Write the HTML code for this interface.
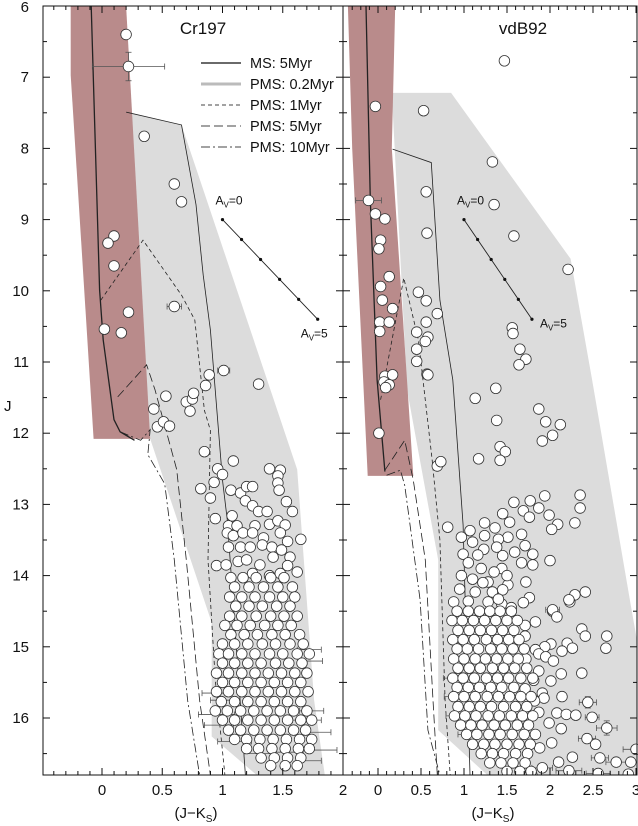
<!DOCTYPE html>
<html><head><meta charset="utf-8"><style>
html,body{margin:0;padding:0;background:#fff;}
svg{display:block;font-family:"Liberation Sans",sans-serif;}
</style></head><body>
<svg id="chart" width="638" height="826" viewBox="0 0 638 826" xmlns="http://www.w3.org/2000/svg">
<g id="layer-bg"></g>
<g id="layer-lines"></g>
<g id="layer-err"></g>
<g id="layer-pts"></g>
<g id="layer-axes"></g>
</svg>
<script>
// ---------- data ----------
const yTicks = [6,7,8,9,10,11,12,13,14,15,16];
const leftXTicks = [0,0.5,1,1.5,2];
const rightXTicks = [0,0.5,1,1.5,2,2.5,3];
const legendLabels = ["MS: 5Myr","PMS: 0.2Myr","PMS: 1Myr","PMS: 5Myr","PMS: 10Myr"];
const avStart = [1.0, 9.0];
const avEnd = [1.79, 10.4];

// region shapes (data coords: colour, J)
const leftRedBand = [[-0.26,6],[-0.26,6.97],[-0.07,12.08],[0.4,12.08],[0.2,6]];
const leftGrey = [[0.2,7.49],[0.66,7.67],[1.62,12.51],[1.76,15.75],[1.85,16.81],[1.29,16.81],[0.91,16.26],[0.91,14.66],[0.4,12.08],[0.2,7.49]];
const rightRedBand = [[-0.35,6],[-0.3,8.0],[-0.12,12.6],[0.41,12.6],[0.16,8.0],[0.2,6]];
const rightGrey = [[0.16,7.22],[0.85,7.22],[2.24,9.55],[2.49,11.25],[2.95,14.49],[3.01,14.9],[3.01,16.81],[1.28,16.81],[0.7,16.17],[0.7,13.78],[0.34,11.4],[0.16,7.22]];

// isochrones
const leftMS = [[-0.09,6],[-0.02,9.99],[0.01,10.69],[0.1,11.81],[0.15,11.98],[0.27,12.1]];
const leftP02 = [[0.2,7.49],[0.66,7.67],[0.78,8.79],[0.84,9.78],[0.9,10.55],[1.0,12.66],[1.04,13.22],[1.19,16.81]];
const leftP1 = [[-0.01,10.13],[0.34,9.29],[0.66,10.06],[0.77,10.41],[0.85,11.68],[0.9,11.96],[0.88,13.78],[0.94,15.47],[1.02,16.81]];
const leftP5 = [[0.13,11.49],[0.37,11.04],[0.44,11.39],[0.62,12.51],[0.7,13.78],[0.81,15.75],[0.9,16.81]];
const leftP10 = [[0.15,11.98],[0.32,12.1],[0.4,11.95],[0.38,12.3],[0.52,12.71],[0.6,13.78],[0.71,15.75],[0.81,16.81]];
const rightMS = [[-0.14,6],[-0.09,8.72],[-0.01,11.25],[0.08,12.54]];
const rightP02 = [[0.17,8.01],[0.62,8.2],[0.72,10.13],[0.87,11.25],[0.99,13.29],[1.07,16.81]];
const rightP1 = [[0.03,11.53],[0.3,9.82],[0.47,10.69],[0.63,12.38],[0.72,13.5],[0.78,15.75],[0.84,16.81]];
const rightP5 = [[0.08,12.52],[0.31,12.1],[0.41,12.66],[0.55,13.78],[0.64,15.75],[0.69,16.81]];
const rightP10 = [[0.1,12.59],[0.26,12.52],[0.31,12.73],[0.49,14.34],[0.58,16.17],[0.72,16.81]];

// stars: sparse points [colour, J]
const leftSparse = [[0.2,6.4],[0.22,6.85],[0.35,7.83],[0.6,8.5],[0.66,8.75],[0.1,9.23],[0.05,9.33],[0.1,9.65],[0.22,10.3],[0.02,10.54],[0.16,10.59],[0.6,10.22],
[0.53,11.48],[0.43,11.66],[0.46,11.91],[0.51,11.84],[0.56,11.9],[0.7,11.56],[0.75,11.52],[0.76,11.44],[0.73,11.69],[0.86,11.33],[0.89,11.18],[1.01,11.12],[1.3,11.31],
[0.85,12.26],[1.09,12.39],[0.96,12.5],[1.0,12.58],[0.93,12.69],[0.82,12.78],[0.9,12.91],[0.94,13.2],[1.39,12.5],[1.48,12.52],[1.46,12.6],[1.46,12.7],[1.47,12.8],[1.53,12.96],[1.58,13.1],[1.65,13.49],
[1.07,12.8],[1.15,12.84],[1.2,12.75],[1.25,12.75],[1.19,12.95],[1.25,13.02],[1.3,13.1],[1.37,13.1],[1.08,13.16],[1.05,13.3],[1.12,13.3],[1.27,13.3],[1.39,13.28],[1.46,13.23],[1.52,13.29],
[1.04,13.4],[1.09,13.44],[1.17,13.4],[1.25,13.4],[1.34,13.47],[1.48,13.4],[1.54,13.52],[1.05,13.6],[1.15,13.6],[1.23,13.6],[1.33,13.57],[1.41,13.6],[1.49,13.64],[1.56,13.74],
[0.95,13.86],[1.03,13.85],[1.13,13.8],[1.2,13.78],[1.31,13.85],[1.42,13.74],[1.54,13.86],[1.62,13.95],[1.25,13.97],[1.39,14.0],[1.48,13.97]];
const leftRowsJ = [14.03,14.16,14.3,14.43,14.57,14.7,14.83,14.96,15.1,15.23,15.37,15.5,15.63,15.77,15.9,16.03,16.17,16.3,16.43,16.56,16.67];
const leftRowsC = [[1.07,1.17,1.28,1.4,1.51],[1.1,1.22,1.34,1.46,1.58],[1.06,1.16,1.27,1.39,1.5,1.6],[1.11,1.22,1.33,1.45,1.56],[1.06,1.16,1.28,1.4,1.51,1.62],
[1.02,1.12,1.23,1.35,1.46,1.57],[1.07,1.18,1.29,1.41,1.52,1.64],[1.0,1.1,1.21,1.33,1.44,1.56,1.67],[0.97,1.05,1.16,1.27,1.39,1.5,1.62,1.72],[1.0,1.1,1.21,1.32,1.44,1.55,1.66],
[0.95,1.05,1.16,1.27,1.38,1.49,1.6,1.7],[1.0,1.1,1.21,1.32,1.43,1.54,1.65],[0.95,1.05,1.16,1.27,1.38,1.49,1.6,1.71],[0.99,1.1,1.21,1.32,1.43,1.54,1.65],
[0.94,1.04,1.15,1.26,1.37,1.48,1.59,1.7],[1.0,1.1,1.21,1.32,1.43,1.54,1.65,1.74],[1.05,1.15,1.26,1.37,1.48,1.59,1.69],[1.1,1.2,1.31,1.42,1.53,1.64,1.74],
[1.2,1.3,1.41,1.52,1.63,1.72],[1.32,1.43,1.54,1.65],[1.4,1.52,1.62]];
const rightSparse = [[1.47,6.77],[-0.03,7.41],[0.53,7.47],[1.33,8.19],[0.56,8.61],[1.35,8.79],[-0.11,8.73],[-0.03,8.92],[0.08,8.99],[0.57,9.19],[1.58,9.23],[0.03,9.29],[0.01,9.41],[2.21,9.7],
[0.13,9.8],[0.03,9.94],[0.05,10.13],[0.17,10.25],[0.02,10.44],[0.13,10.44],[0.02,10.57],[0.47,10.02],[0.56,10.14],[0.69,10.32],[0.56,10.44],[0.45,10.58],[0.58,10.65],[0.55,10.71],[0.45,10.82],[0.45,10.99],
[1.56,10.52],[1.57,10.6],[1.65,10.82],[1.72,10.96],[1.64,11.04],[0.57,11.17],[0.58,11.18],[0.08,11.2],[0.17,11.18],[0.07,11.28],[0.13,11.32],[0.09,11.36],[1.37,11.37],[1.13,11.51],[1.87,11.66],[1.38,11.82],[1.95,11.84],[2.12,11.88],
[1.91,12.11],[2.03,12.03],[1.42,12.19],[1.48,12.26],[1.42,12.38],[1.17,12.36],[0.01,12.0],[0.69,12.46],[0.73,12.4],[0.81,13.32],[1.58,12.97],[1.77,12.95],[1.94,12.88],[2.35,12.87],[2.35,13.05],
[1.69,13.09],[1.87,13.05],[1.76,13.18],[1.99,13.15],[2.09,13.28],[2.02,13.35],[2.29,13.26],[1.45,13.13],[1.53,13.25],[1.67,13.42],[1.51,13.46],[1.71,13.58],[1.8,13.7],[1.8,13.85],[1.67,13.82],[2.0,13.79],
[2.41,14.23],[2.29,14.27],[2.23,14.37],[2.03,14.5],[1.72,14.09],[1.76,14.31],[1.69,14.38],
[1.24,13.26],[1.36,13.33],[1.07,13.37],[1.24,13.44],[1.4,13.49],[0.97,13.46],[1.1,13.53],[1.23,13.63],[1.38,13.6],[1.45,13.72],[1.59,13.67],[0.99,13.7],[1.16,13.71],[1.05,13.82],[1.2,13.9],[1.44,13.9],
[0.97,14.0],[1.1,14.05],[1.28,14.09],[1.51,14.13],[0.95,14.19],[1.13,14.23],[1.33,14.23],[1.45,14.2],[0.88,14.37],[1.05,14.36],[1.28,14.37],[1.44,14.4],[1.35,13.95],[1.5,14.0],[1.22,14.1],[1.4,14.33],[1.55,14.45],
[2.22,14.34],[2.03,14.48],[2.08,14.58],[1.83,14.65],[1.71,14.7],[1.71,14.85],[2.37,14.75],[2.41,14.85],[2.66,14.85],[2.65,15.02],[2.2,14.95],[2.26,15.02],[2.14,15.06],[2.01,14.96],[1.94,15.0],[1.83,15.04],
[1.87,15.1],[1.95,15.14],[2.04,15.2],[2.37,15.37],[2.13,15.38],[2.01,15.48],[1.87,15.34],[1.72,15.17],[1.81,15.47],[1.71,15.59],[1.91,15.65],[1.93,15.72],[2.14,15.7],[1.82,15.76],[2.44,15.78],
[2.08,15.93],[2.19,15.95],[2.3,15.96],[2.49,15.99],[1.87,15.92],[1.99,16.07],[2.13,16.15],[2.66,16.14],[2.43,16.29],[2.53,16.37],[2.26,16.55],[2.58,16.56],[2.77,16.62],[2.94,16.62],[3.0,16.44],
[2.91,16.79],[2.56,16.78],[2.22,16.74],[2.1,16.62],[2.02,16.35],[1.88,16.42],[1.79,16.8],[1.91,16.7]];
const rightRowsJ = [14.5,14.63,14.77,14.9,15.03,15.17,15.3,15.44,15.57,15.7,15.84,15.97,16.1,16.23,16.37,16.5,16.63,16.75];
const rightRowsC = [[0.92,1.05,1.18,1.3,1.42,1.55],[0.86,0.98,1.11,1.24,1.37,1.5,1.62],[0.93,1.06,1.19,1.32,1.45,1.58],[0.87,0.99,1.12,1.26,1.39,1.52,1.64],
[0.92,1.04,1.17,1.31,1.44,1.57,1.7],[0.88,1.0,1.13,1.25,1.38,1.51,1.63],[0.93,1.06,1.19,1.33,1.46,1.59,1.73],[0.87,0.99,1.12,1.26,1.39,1.52,1.66,1.8],
[0.92,1.05,1.18,1.31,1.44,1.58],[0.88,1.0,1.13,1.27,1.4,1.53,1.66,1.78],[0.93,1.06,1.19,1.32,1.46,1.6,1.73],[0.89,1.01,1.14,1.28,1.41,1.55,1.68,1.8],
[0.96,1.08,1.21,1.35,1.48,1.62,1.75],[1.03,1.15,1.29,1.42,1.56,1.7,1.83],[1.1,1.23,1.36,1.5,1.64,1.77],[1.2,1.33,1.46,1.6,1.74],[1.3,1.43,1.57,1.71],[1.5,1.65,1.78]];
// error bars [colour, J, xerr, yerr]
const leftErr = [[0.22,6.85,0.3,0.2],[0.6,10.22,0.06,0.06],[1.01,11.12,0.05,0.04],[0.95,15.95,0.15,0],[0.97,16.1,0.12,0],[1.0,15.75,0.1,0],[0.93,15.65,0.1,0],[1.1,16.33,0.14,0],
[1.72,15.04,0.1,0],[1.75,15.2,0.08,0],[1.8,16.2,0.1,0],[1.83,16.45,0.12,0],[1.72,16.6,0.1,0],[1.55,16.48,0.12,0],[1.3,16.5,0.12,0],[1.74,15.9,0.1,0],[1.7,16.03,0.12,0]];
const rightErr = [[-0.11,8.73,0.15,0.05],[2.03,14.48,0.08,0],[2.44,15.78,0.1,0.08],[2.49,15.99,0.08,0],[2.66,16.14,0.12,0.1],[2.43,16.29,0.1,0],[3.0,16.44,0.15,0],[2.56,16.78,0.14,0],
[2.77,16.62,0.12,0],[2.22,16.74,0.15,0],[0.86,15.44,0.1,0],[0.87,15.7,0.1,0],[0.89,15.97,0.1,0],[1.03,16.23,0.1,0],[1.91,16.7,0.12,0],[2.58,16.56,0.1,0]];

// ---------- geometry ----------
const NS="http://www.w3.org/2000/svg";
const TOP=6, BOT=775;
const yOf = j => TOP + (j-6)*71.2;
const L = {x0:43, x1:343, xOf: c => 102 + c*120.5, cmin:-0.4, cmax:2.0, av5dx:-17, av5dy:18};
const R = {x0:343, x1:637, xOf: c => 378 + c*86, cmin:-0.3, cmax:3.0, av5dx:8, av5dy:8};
function mk(tag, attrs, parent){const e=document.createElementNS(NS,tag);for(const k in attrs)e.setAttribute(k,attrs[k]);parent.appendChild(e);return e;}
const bg=document.getElementById('layer-bg'), ln=document.getElementById('layer-lines'), er=document.getElementById('layer-err'), pt=document.getElementById('layer-pts'), ax=document.getElementById('layer-axes');

function poly(P, pts, fill, name){
  const e=mk('polygon',{points:pts.map(p=>P.xOf(p[0]).toFixed(1)+','+yOf(p[1]).toFixed(1)).join(' '),fill:fill},bg);
  
  
}
function line(P, pts, dash, name, w){
  const e=mk('polyline',{points:pts.map(p=>P.xOf(p[0]).toFixed(1)+','+Math.min(BOT,yOf(p[1])).toFixed(1)).join(' '),fill:'none',stroke:'#222','stroke-width':w||0.8},ln);
  if(dash) e.setAttribute('stroke-dasharray',dash);
  
  
}
function star(P, c, j, name){
  const e=mk('circle',{cx:P.xOf(c).toFixed(1),cy:yOf(j).toFixed(1),r:5.3,fill:'#fff',stroke:'#333','stroke-width':0.8},pt);
  
  
}
function errbar(P, d, name){
  const x=P.xOf(d[0]), y=yOf(d[1]), xa=P.xOf(d[0]-d[2]), xb=P.xOf(d[0]+d[2]);
  const g=mk('g',{stroke:'#555','stroke-width':0.8},er);
  
  
  mk('line',{x1:xa,y1:y,x2:xb,y2:y},g);
  mk('line',{x1:xa,y1:y-3,x2:xa,y2:y+3},g);
  mk('line',{x1:xb,y1:y-3,x2:xb,y2:y+3},g);
  if(d[3]>0){const ya=yOf(d[1]-d[3]), yb=yOf(d[1]+d[3]);
    mk('line',{x1:x,y1:ya,x2:x,y2:yb},g);mk('line',{x1:x-3,y1:ya,x2:x+3,y2:ya},g);mk('line',{x1:x-3,y1:yb,x2:x+3,y2:yb},g);}
}
function avVector(P, name){
  const g=mk('g',{},ln);
  
  
  mk('line',{x1:P.xOf(avStart[0]),y1:yOf(avStart[1]),x2:P.xOf(avEnd[0]),y2:yOf(avEnd[1]),stroke:'#222','stroke-width':0.9},g);
  for(let k=0;k<=5;k++){const c=avStart[0]+(avEnd[0]-avStart[0])*k/5, j=avStart[1]+(avEnd[1]-avStart[1])*k/5;
    mk('circle',{cx:P.xOf(c),cy:yOf(j),r:1.6,fill:'#111'},g);}
  const t0=mk('text',{x:P.xOf(avStart[0])-7,y:yOf(avStart[1])-15,'font-size':12,fill:'#111'},g);
  t0.innerHTML='A<tspan font-size="8" dy="3">V</tspan><tspan dy="-3">=0</tspan>';
  const t1=mk('text',{x:P.xOf(avEnd[0])+P.av5dx,y:yOf(avEnd[1])+P.av5dy,'font-size':12,fill:'#111'},g);
  t1.innerHTML='A<tspan font-size="8" dy="3">V</tspan><tspan dy="-3">=5</tspan>';
}
function panel(P, tag, red, grey, ms, p02, p1, p5, p10, sparse, rowsJ, rowsC, errs){
  poly(P, grey, '#dcdcdc', tag+'-pms-region');
  poly(P, red, '#b98b8b', tag+'-ms-band');
  line(P, ms, null, tag+'-ms-5myr', 1.3);
  line(P, p02, null, tag+'-pms-0.2myr', 0.8);
  line(P, p1, '4,3', tag+'-pms-1myr', 0.8);
  line(P, p5, '9,4', tag+'-pms-5myr', 0.8);
  line(P, p10, '9,3,2,3', tag+'-pms-10myr', 0.8);
  avVector(P, tag+'-extinction-vector');
  errs.forEach(d=>errbar(P,d,tag+'-error-bar'));
  sparse.forEach(d=>star(P,d[0],d[1],tag+'-star'));
  rowsJ.forEach((j,i)=>rowsC[i].forEach(c=>star(P,c,j,tag+'-star')));
}
panel(L,'cr197',leftRedBand,leftGrey,leftMS,leftP02,leftP1,leftP5,leftP10,leftSparse,leftRowsJ,leftRowsC,leftErr);
panel(R,'vdb92',rightRedBand,rightGrey,rightMS,rightP02,rightP1,rightP5,rightP10,rightSparse,rightRowsJ,rightRowsC,rightErr);

// clip guard: white outside plot
mk('rect',{x:0,y:BOT,width:638,height:826-BOT,fill:'#fff'},ax);
mk('rect',{x:0,y:0,width:43,height:826,fill:'#fff'},ax);

// axes
function frame(P, tag, xticks){
  const g=mk('g',{stroke:'#111','stroke-width':1,fill:'none'},ax);
  
  
  mk('rect',{x:P.x0,y:TOP,width:P.x1-P.x0,height:BOT-TOP},g);
  for(let k=Math.ceil(P.cmin*10);k<=Math.floor(P.cmax*10);k++){
    const c=k/10, x=P.xOf(c); if(x<P.x0+1||x>P.x1-1) continue;
    const len=(k%5===0)?7:4;
    mk('line',{x1:x,y1:BOT,x2:x,y2:BOT-len},g); mk('line',{x1:x,y1:TOP,x2:x,y2:TOP+len},g);
  }
  for(let k=13;k<=33;k++){const j=k/2, y=yOf(j); if(y>BOT-1||y<TOP+1) continue;
    const len=(k%2===0)?7:4;
    mk('line',{x1:P.x0,y1:y,x2:P.x0+len,y2:y},g); mk('line',{x1:P.x1,y1:y,x2:P.x1-len,y2:y},g);}
  xticks.forEach(c=>{const t=mk('text',{x:P.xOf(c),y:BOT+20,'font-size':15,'text-anchor':'middle',fill:'#111',stroke:'none'},ax);
    t.textContent=String(c);
    
    });
  const xl=mk('text',{x:(P.x0+P.x1)/2+3,y:BOT+43,'font-size':15,'text-anchor':'middle',fill:'#111'},ax);
  xl.innerHTML='(J\u2212K<tspan font-size="10" dy="4">S</tspan><tspan dy="-4">)</tspan>';
  
  
}
frame(L,'cr197',leftXTicks);
frame(R,'vdb92',rightXTicks);
yTicks.forEach(j=>{const t=mk('text',{x:29,y:yOf(j)+(j===6?6:5),'font-size':15,'text-anchor':'end',fill:'#111'},ax);
  t.textContent=String(j);
  
  });
const yl=mk('text',{x:4,y:411,'font-size':15,fill:'#111'},ax); yl.textContent='J';


const t1=mk('text',{x:203,y:34,'font-size':17,'text-anchor':'middle',fill:'#111'},ax); t1.textContent='Cr197';


const t2=mk('text',{x:523,y:34,'font-size':17,'text-anchor':'middle',fill:'#111'},ax); t2.textContent='vdB92';



// legend
const lg=mk('g',{},ax);


const legStyles=[['#111',1.3,null],['#bbb',3,null],['#444',0.9,'4,3'],['#444',0.9,'9,4'],['#444',0.9,'9,3,2,3']];
legendLabels.forEach((lab,i)=>{
  const y=63+i*21;
  const s=legStyles[i];
  const l=mk('line',{x1:201,y1:y,x2:241,y2:y,stroke:s[0],'stroke-width':s[1]},lg);
  if(s[2]) l.setAttribute('stroke-dasharray',s[2]);
  
  
  const t=mk('text',{x:250,y:y+5,'font-size':14.5,fill:'#111'},lg);
  t.textContent=lab;
  
  
});
</script>
</body></html>
